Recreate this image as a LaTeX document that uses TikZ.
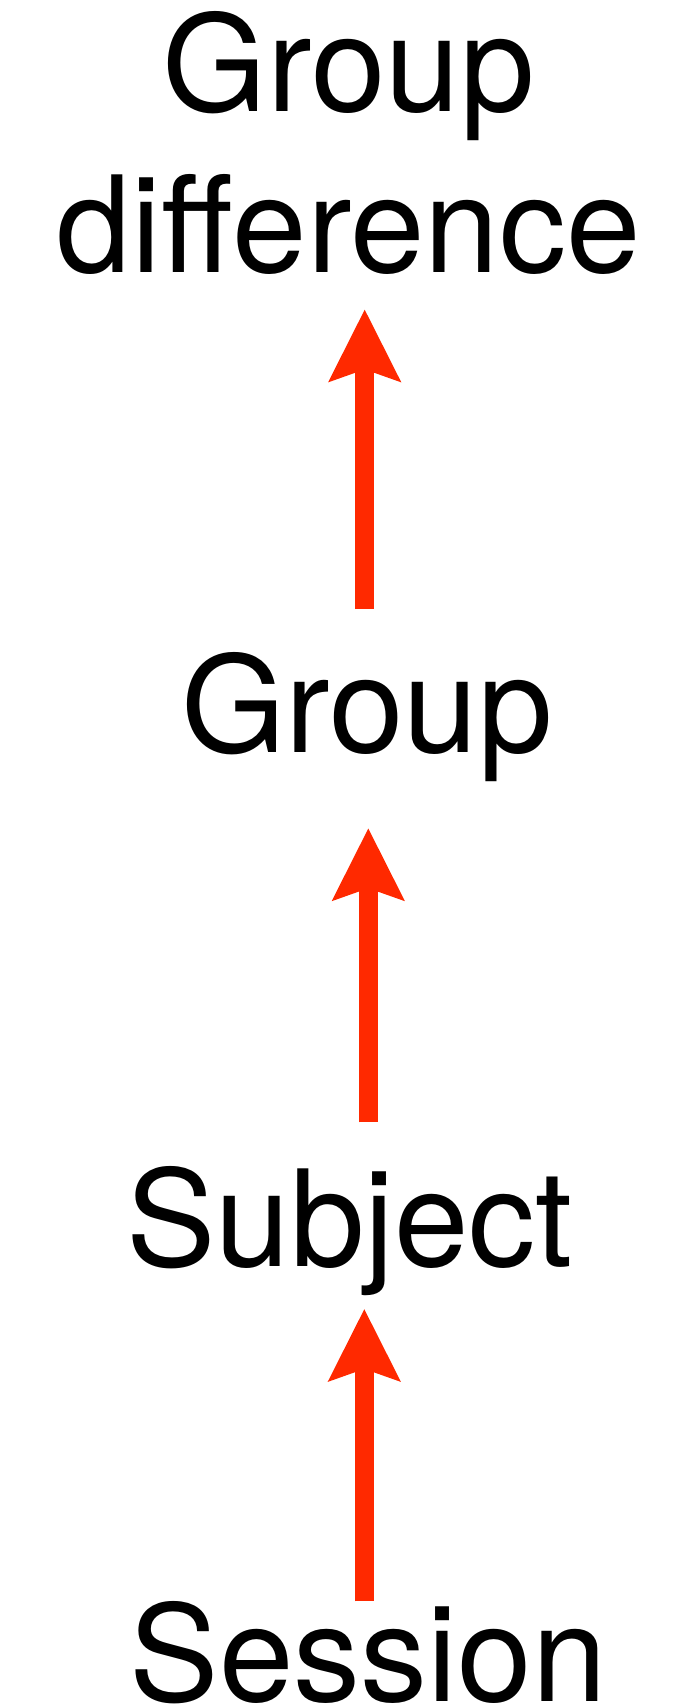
\documentclass[tikz,border=0pt]{standalone}
\usepackage{fontspec}
\setmainfont{TeX Gyre Heros}
\usetikzlibrary{arrows.meta}
\definecolor{arrowred}{RGB}{255,41,0}
\begin{document}
\begin{tikzpicture}[x=1pt, y=-1pt,
  lvl/.style={inner sep=0pt, font=\fontsize{134}{161}\selectfont},
  up/.style={draw=arrowred, line width=18.7pt,
    -{Stealth[length=72.7pt, width=73.3pt, inset=13pt, line width=0pt]}}]
\useasboundingbox (0,0) rectangle (675,1705);
\node[lvl, align=center, anchor=south] (lvl3) at (348.8,275){Group\\difference};
\node[lvl, anchor=base] (lvl2) at (367,752.3){Group};
\node[lvl, anchor=base] (lvl1) at (349.7,1266.7){Subject};
\node[lvl, anchor=base] (lvl0) at (368.3,1701.7){Session};
\draw[up, shorten <=42.9pt, shorten >=34.7pt] ([xshift=-2.3pt]lvl2.north) -- ([xshift=15.9pt]lvl3.south);
\draw[up, shorten <=44pt, shorten >=46.8pt] ([xshift=18.6pt]lvl1.north) -- ([xshift=1.3pt]lvl2.south);
\draw[up, shorten <=0pt, shorten >=13.1pt] ([xshift=-4pt]lvl0.north) -- ([xshift=14.6pt]lvl1.south);
\end{tikzpicture}
\end{document}
